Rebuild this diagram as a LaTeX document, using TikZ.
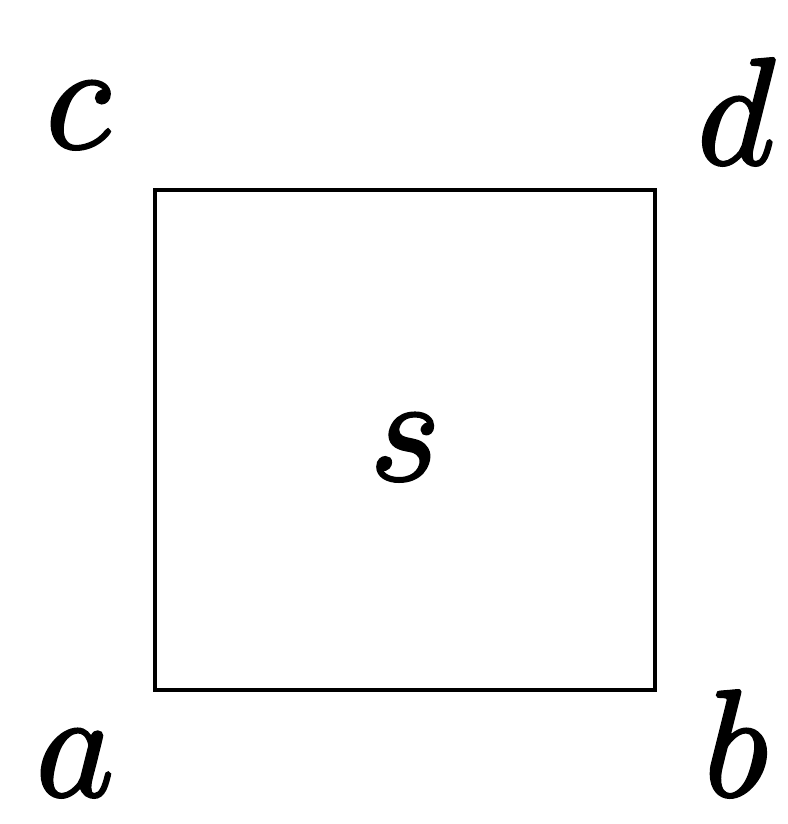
\documentclass[tikz,border=0pt]{standalone}
\usepackage{fix-cm}
\newcommand\heavyglyph[1]{\special{pdf:literal direct 2 Tr 0.75 w}#1\special{pdf:literal direct 0 Tr}}
\tikzset{lbl/.style={anchor=base,inner sep=0pt,font=\fontsize{38}{42}\selectfont}}
\begin{document}
\begin{tikzpicture}[x=1pt,y=1pt]
\useasboundingbox (0,0) rectangle (197,206);
\draw[line width=1pt] (38.75,33.5) rectangle (163.75,158.5);
\node[lbl] (c) at (19.5,169) {\heavyglyph{$c$}};
\node[lbl] (d) at (184,165) {\heavyglyph{$d$}};
\node[lbl] (a) at (18.75,7) {\heavyglyph{$a$}};
\node[lbl] (b) at (184,7) {\heavyglyph{$b$}};
\node[lbl] (s) at (101.25,86) {\heavyglyph{$s$}};
\end{tikzpicture}
\end{document}
